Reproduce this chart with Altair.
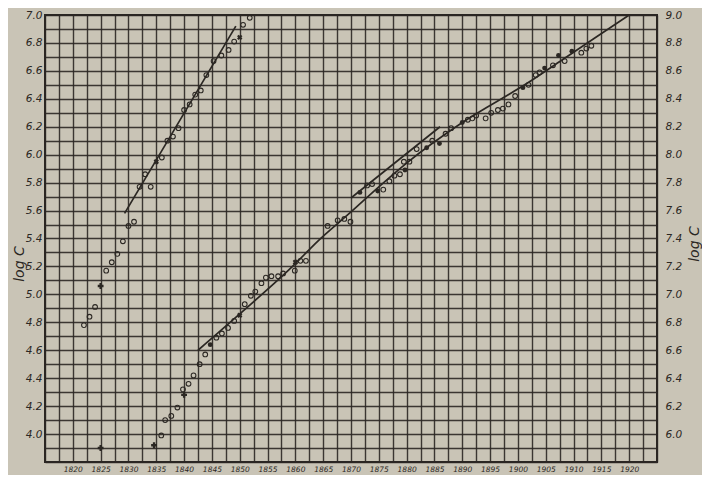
import altair as alt
import pandas as pd

# ---- data (values in left-axis units of log C) ----
early_years = [1822, 1823, 1824, 1826, 1827, 1828, 1829, 1830, 1831, 1832, 1833, 1834,
               1836, 1837, 1838, 1839, 1840, 1841, 1842, 1843, 1844, 1845.3, 1846.7,
               1848, 1849, 1850.6, 1851.8]
early_logc = [4.78, 4.84, 4.91, 5.17, 5.23, 5.29, 5.38, 5.49, 5.52, 5.77, 5.86, 5.77,
              5.98, 6.10, 6.13, 6.19, 6.32, 6.36, 6.43, 6.46, 6.57, 6.67, 6.71,
              6.75, 6.81, 6.93, 6.98]

late_years = [1835.9, 1836.6, 1837.7, 1838.8, 1839.8, 1840.8, 1841.7, 1842.8, 1843.8,
              1845.8, 1846.8, 1847.9, 1849.0, 1850.9, 1852.0, 1852.8, 1853.9, 1854.7,
              1855.7, 1856.9, 1857.8, 1859.9, 1860.9, 1861.9, 1865.8, 1867.6, 1868.8,
              1869.9, 1872.9, 1873.8, 1875.8, 1876.9, 1877.8, 1878.8, 1879.5, 1880.5,
              1881.8, 1884.6, 1887.0, 1888.0, 1891.0, 1891.8, 1892.5, 1894.2, 1895.2,
              1896.4, 1897.3, 1898.3, 1899.5, 1901.9, 1903.2, 1903.9, 1906.3, 1908.4,
              1911.4, 1912.3, 1913.2]
late_logc = [3.99, 4.10, 4.13, 4.19, 4.32, 4.36, 4.42, 4.50, 4.57,
             4.69, 4.72, 4.76, 4.81, 4.93, 4.99, 5.02, 5.08, 5.12,
             5.13, 5.13, 5.15, 5.17, 5.24, 5.24, 5.49, 5.53, 5.54,
             5.52, 5.78, 5.79, 5.75, 5.81, 5.85, 5.86, 5.95, 5.95,
             6.04, 6.10, 6.15, 6.19, 6.25, 6.26, 6.28, 6.26, 6.30,
             6.32, 6.33, 6.36, 6.42, 6.50, 6.57, 6.59, 6.64, 6.67,
             6.73, 6.76, 6.78]

filled_years = [1844.7, 1871.6, 1874.8, 1879.7, 1883.6, 1885.9, 1890.0, 1900.9, 1904.8, 1907.3, 1909.7]
filled_logc = [4.64, 5.73, 5.74, 5.89, 6.05, 6.08, 6.23, 6.48, 6.62, 6.71, 6.74]

plus_years = [1825, 1825, 1834.6, 1840]
plus_logc = [5.06, 3.90, 3.92, 4.28]
xmark_years = [1835, 1850, 1850, 1860]
xmark_logc = [5.95, 6.84, 4.85, 5.23]

early_fit_years = [1829.3, 1849.3]
early_fit_logc = [5.58, 6.92]
short_fit_years = [1870, 1886]
short_fit_logc = [5.69, 6.20]
curve_years = [1842.5, 1850, 1860, 1864, 1870, 1875, 1880, 1890, 1902, 1908, 1920]
curve_logc = [4.60, 4.86, 5.22, 5.38, 5.59, 5.77, 5.94, 6.23, 6.52, 6.68, 7.00]

x_label_years = [1820, 1825, 1830, 1835, 1840, 1845, 1850, 1855, 1860, 1865, 1870,
                 1875, 1880, 1885, 1890, 1895, 1900, 1905, 1910, 1915, 1920]
left_labels = [4.0, 4.2, 4.4, 4.6, 4.8, 5.0, 5.2, 5.4, 5.6, 5.8, 6.0, 6.2, 6.4, 6.6, 6.8, 7.0]
right_labels = [6.0, 6.2, 6.4, 6.6, 6.8, 7.0, 7.2, 7.4, 7.6, 7.8, 8.0, 8.2, 8.4, 8.6, 8.8, 9.0]

# ---- styling ----
paper = "#c9c4b6"
ink = "#2b2723"
font = "DejaVu Sans"
W, H = 612, 447

x_grid = [1815 + 2.5 * i for i in range(45)]
yl_grid = [round(3.8 + 0.1 * i, 1) for i in range(33)]
yr_grid = [round(5.8 + 0.1 * i, 1) for i in range(33)]

x_lab_expr = "indexof([" + ",".join(str(v) for v in x_label_years) + "], datum.value) >= 0 ? format(datum.value, 'd') : ''"
yl_lab_expr = "indexof([" + ",".join(str(int(round(v * 10))) for v in left_labels) + "], round(datum.value*10)) >= 0 ? format(datum.value, '.1f') : ''"
yr_lab_expr = "indexof([" + ",".join(str(int(round(v * 10))) for v in right_labels) + "], round(datum.value*10)) >= 0 ? format(datum.value, '.1f') : ''"

x_enc = alt.X(
    "year:Q",
    scale=alt.Scale(domain=[1815, 1925], nice=False, zero=False),
    axis=alt.Axis(values=x_grid, labelExpr=x_lab_expr, grid=True, gridColor=ink,
                  gridWidth=1.4, gridOpacity=0.9, ticks=False, domain=False,
                  labelFont=font, labelFontStyle="italic", labelFontSize=7.5,
                  labelColor=ink, labelPadding=3, labelOverlap=False, labelFlush=False,
                  title=None),
)
y_enc = alt.Y(
    "logc:Q",
    scale=alt.Scale(domain=[3.8, 7.0], nice=False, zero=False),
    axis=alt.Axis(values=yl_grid, labelExpr=yl_lab_expr, grid=True, gridColor=ink,
                  gridWidth=1.4, gridOpacity=0.9, ticks=False, domain=False,
                  labelFont=font, labelFontStyle="italic", labelFontSize=10.5,
                  labelColor=ink, labelPadding=3, labelOverlap=False, labelFlush=False,
                  title="log C", titleFont=font, titleFontStyle="italic",
                  titleFontWeight="normal", titleFontSize=14, titleColor=ink,
                  titleAngle=270, titleX=-26, titleY=H / 2 + 25, titleAlign="center",
                  titleBaseline="middle"),
)

def df(xs, ys):
    return pd.DataFrame({"year": xs, "logc": ys})

early = alt.Chart(df(early_years, early_logc)).mark_point(
    shape="circle", filled=False, size=22, strokeWidth=1.1, color=ink, opacity=1
).encode(x=x_enc, y=y_enc)

late = alt.Chart(df(late_years, late_logc)).mark_point(
    shape="circle", filled=False, size=22, strokeWidth=1.1, color=ink, opacity=1
).encode(x=x_enc, y=y_enc)

filled = alt.Chart(df(filled_years, filled_logc)).mark_point(
    shape="circle", filled=True, size=24, color=ink, opacity=1
).encode(x=x_enc, y=y_enc)

plus = alt.Chart(df(plus_years, plus_logc)).mark_point(
    shape="cross", filled=True, size=34, color=ink, opacity=1
).encode(x=x_enc, y=y_enc)

xmark = alt.Chart(df(xmark_years, xmark_logc)).mark_point(
    shape="cross", filled=True, size=30, angle=45, color=ink, opacity=1
).encode(x=x_enc, y=y_enc)

lines_df = pd.concat([
    df(early_fit_years, early_fit_logc).assign(line="early"),
    df(short_fit_years, short_fit_logc).assign(line="short"),
    df(curve_years, curve_logc).assign(line="curve"),
])
lines = alt.Chart(lines_df).mark_line(
    color=ink, strokeWidth=1.7, interpolate="monotone"
).encode(x=x_enc, y=y_enc, detail="line:N")

right_df = pd.DataFrame({"year": [1815, 1925], "logc_r": [5.8, 9.0]})
right_axis = alt.Chart(right_df).mark_point(opacity=0).encode(
    x=x_enc,
    y=alt.Y("logc_r:Q",
            scale=alt.Scale(domain=[5.8, 9.0], nice=False, zero=False),
            axis=alt.Axis(orient="right", values=yr_grid, labelExpr=yr_lab_expr,
                          grid=False, ticks=False, domain=False,
                          labelFont=font, labelFontStyle="italic", labelFontSize=10.5,
                          labelColor=ink, labelPadding=8, labelOverlap=False,
                          labelFlush=False, title="log C", titleFont=font,
                          titleFontStyle="italic", titleFontWeight="normal",
                          titleFontSize=14, titleColor=ink, titleAngle=270,
                          titleX=37, titleY=H / 2 + 5, titleAlign="center",
                          titleBaseline="middle")),
)

left_layers = alt.layer(lines, early, late, filled, plus, xmark)

chart = alt.layer(left_layers, right_axis).resolve_scale(y="independent").properties(
    width=W,
    height=H,
    autosize=alt.AutoSizeParams(type="none"),
    padding={"left": 37, "top": 7, "right": 45, "bottom": 13},
    background=paper,
).configure_view(fill=paper, stroke=ink, strokeWidth=2)

chart.save("out.html", embed_options={"renderer": "svg", "actions": False})
